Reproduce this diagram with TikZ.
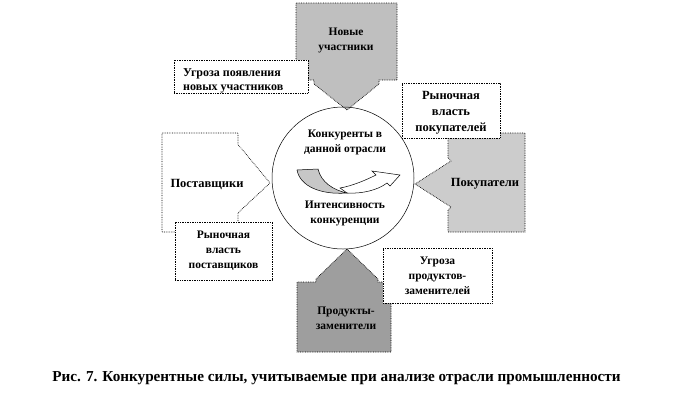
\documentclass[tikz,border=0pt]{standalone}
\usepackage{fontspec}
\setmainfont{Liberation Serif}
\begin{document}
\begin{tikzpicture}[x=1pt,y=-1pt,
  shapeline/.style={draw=black, densely dotted, line width=0.7pt},
  box/.style={draw=black, densely dotted, line width=0.7pt, fill=white, inner sep=0pt},
  lbl/.style={font=\bfseries\fontsize{11.5}{15}\selectfont, align=center, inner sep=0pt},
  lblbig/.style={font=\bfseries\fontsize{12.5}{15.5}\selectfont, align=center, inner sep=0pt},
]
\useasboundingbox (0,0) rectangle (680,400);
\fill[white] (0,0) rectangle (680,400);

% top arrow: new entrants
\path[shapeline, fill=black!25] (296,3) -- (397,3) -- (397,80) -- (379,80) -- (379,84) -- (347,110) -- (314,84) -- (314,80) -- (296,80) -- cycle;
% right arrow: buyers
\path[shapeline, fill=black!20] (525,133) -- (525,232) -- (448,232) -- (448,210) -- (451,207) -- (415,184) -- (451,161) -- (448,158) -- (448,133) -- cycle;
% left arrow: suppliers
\path[shapeline, fill=white] (162,133) -- (238,133) -- (238,145) -- (241,148) -- (270,183) -- (241,210) -- (238,213) -- (238,232) -- (162,232) -- cycle;
% bottom arrow: substitutes
\path[shapeline, fill=black!38] (347,249) -- (378,279) -- (378,282) -- (391,282) -- (391,352) -- (297,352) -- (297,282) -- (316,282) -- (316,279) -- cycle;

% central circle
\node[circle, draw=black, line width=0.5pt, minimum size=142pt, inner sep=0pt] (c) at (343,178) {};

% curved arrow inside circle
\path[draw=black, line width=0.5pt, fill=white] (347,193) .. controls (362,194) and (378,190) .. (387,183) -- (390,186) -- (400,175) -- (372,171) -- (376,175) .. controls (366,180) and (352,186) .. (340,188) -- cycle;
\path[draw=black, line width=0.5pt, fill=black!22] (297,170) -- (318,169) .. controls (321,182) and (333,190) .. (347,193) .. controls (320,195) and (300,186) .. (297,170) -- cycle;

% labels in the gray/outlined shapes
\node[lbl] (newlbl) at (346,40.5) {Новые\\участники};
\node[lblbig] (buylbl) at (485,184) {Покупатели};
\node[lblbig] (suplbl) at (207,184) {Поставщики};
\node[lbl] (sublbl) at (346,318.5) {Продукты-\\заменители};
\node[lbl] (comp) at (345,142.5) {Конкуренты в\\данной отрасли};
\node[lbl] (intens) at (345,213) {Интенсивность\\конкуренции};

% boxes
\node[box, minimum width=134pt, minimum height=33pt] (threatnew) at (241,76.5) {};
\node[lbl, font=\bfseries\fontsize{12}{13.5}\selectfont, align=left, anchor=west] (threatnewlbl) at (183,81) {Угроза появления\\новых участников};
\node[box, minimum width=98pt, minimum height=55pt] (buypow) at (451,110.5) {};
\node[lblbig, font=\bfseries\fontsize{12.5}{16}\selectfont] (buypowlbl) at (451,113) {Рыночная\\власть\\покупателей};
\node[box, minimum width=97pt, minimum height=58pt] (suppow) at (223.5,251) {};
\node[lbl, font=\bfseries\fontsize{11.5}{15}\selectfont] (suppowlbl) at (223.5,250.5) {Рыночная\\власть\\поставщиков};
\node[box, minimum width=109pt, minimum height=55pt] (threatsub) at (437.5,275.5) {};
\node[lbl, font=\bfseries\fontsize{11.5}{15}\selectfont] (threatsublbl) at (437.5,275.5) {Угроза\\продуктов-\\заменителей};

% caption
\node[font=\bfseries\fontsize{15.2}{18}\selectfont, inner sep=0pt] (cap) at (336.5,378) {Рис. 7. Конкурентные силы, учитываемые при анализе отрасли промышленности};
\end{tikzpicture}
\end{document}
